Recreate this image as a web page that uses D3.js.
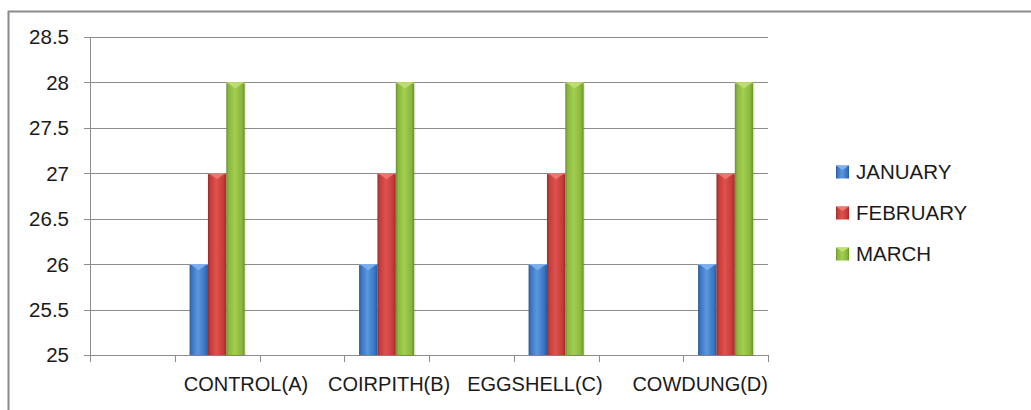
<!DOCTYPE html>
<html>
<head>
<meta charset="utf-8">
<script src="https://cdn.jsdelivr.net/npm/d3@7"></script>
<style>
  html, body { margin: 0; padding: 0; background: #fff; }
  svg { display: block; }
  text { font-family: "Liberation Sans", Arial, sans-serif; fill: #1a1a1a; }
</style>
</head>
<body>
<svg id="chart" width="1031" height="410"></svg>
<script>
// ---- data ----
const categories = ["CONTROL(A)", "COIRPITH(B)", "EGGSHELL(C)", "COWDUNG(D)"];
const seriesNames = ["JANUARY", "FEBRUARY", "MARCH"];
const january  = [26, 26, 26, 26];
const february = [27, 27, 27, 27];
const march    = [28, 28, 28, 28];
const yTicks = [25, 25.5, 26, 26.5, 27, 27.5, 28, 28.5];
const yTickLabels = ["25", "25.5", "26", "26.5", "27", "27.5", "28", "28.5"];

const seriesValues = [january, february, march];
const colors = [
  { base: "#3a74c2", light: "#5b97dd", dark: "#27589a", cap: "#7fb2ee" },
  { base: "#c43b38", light: "#de524e", dark: "#992a27", cap: "#ee7a76" },
  { base: "#89b63d", light: "#a3cf4f", dark: "#6a8e2b", cap: "#c0e070" }
];

const svg = d3.select("#chart");
const defs = svg.append("defs");
colors.forEach((c, i) => {
  const g = defs.append("linearGradient").attr("id", "grad" + i)
    .attr("x1", "0").attr("x2", "1").attr("y1", "0").attr("y2", "0");
  g.append("stop").attr("offset", "0%").attr("stop-color", c.dark);
  g.append("stop").attr("offset", "12%").attr("stop-color", c.base);
  g.append("stop").attr("offset", "45%").attr("stop-color", c.light);
  g.append("stop").attr("offset", "85%").attr("stop-color", c.base);
  g.append("stop").attr("offset", "100%").attr("stop-color", c.dark);
});

// outer frame
svg.append("rect").attr("x", 8.5).attr("y", 11.5).attr("width", 1040).attr("height", 420)
  .attr("fill", "none").attr("stroke", "#8a8a8a").attr("stroke-width", 2);

const plot = { left: 90, right: 768, top: 37, bottom: 355 };

// 8 slots: a blank slot before each category
const slots = [];
categories.forEach((c, i) => { slots.push("_gap" + i); slots.push(c); });

const x = d3.scaleBand().domain(slots).range([plot.left, plot.right]).paddingInner(0).paddingOuter(0);
const bw = x.bandwidth();
const xs = d3.scaleBand().domain(seriesNames).range([bw * 0.175, bw * 0.825]).padding(0);
const y = d3.scaleLinear().domain([25, 28.5]).range([plot.bottom, plot.top]);

// gridlines
svg.append("g").selectAll("line").data(yTicks).join("line")
  .attr("x1", plot.left - 6).attr("x2", plot.right)
  .attr("y1", d => Math.round(y(d)) + 0.5).attr("y2", d => Math.round(y(d)) + 0.5)
  .attr("stroke", "#8c8c8c").attr("stroke-width", 1);

// y axis line
svg.append("line").attr("x1", plot.left + 0.5).attr("x2", plot.left + 0.5)
  .attr("y1", plot.top).attr("y2", plot.bottom + 7)
  .attr("stroke", "#8c8c8c");

// y labels
svg.append("g").selectAll("text").data(yTicks).join("text")
  .attr("x", 69).attr("y", d => y(d)).attr("dy", "0.36em")
  .attr("text-anchor", "end").attr("font-size", 20.5)
  .text((d, i) => yTickLabels[i]);

// x axis ticks (slot boundaries)
const bounds = slots.map(s => x(s)).concat([plot.right]);
svg.append("g").selectAll("line").data(bounds).join("line")
  .attr("x1", d => Math.round(d) + 0.5).attr("x2", d => Math.round(d) + 0.5)
  .attr("y1", plot.bottom).attr("y2", plot.bottom + 7)
  .attr("stroke", "#8c8c8c");

// bars
const barG = svg.append("g");
categories.forEach((cat, ci) => {
  seriesNames.forEach((s, si) => {
    const v = seriesValues[si][ci];
    const bx = x(cat) + xs(s);
    const w = xs.bandwidth();
    const top = y(v);
    const h = y(25) - top;
    barG.append("rect").attr("x", bx + 1.5).attr("y", top + 1).attr("width", w).attr("height", h)
      .attr("fill", "#000").attr("opacity", 0.08);
    barG.append("rect").attr("x", bx).attr("y", top).attr("width", w).attr("height", h)
      .attr("fill", "url(#grad" + si + ")");
    barG.append("polygon")
      .attr("points", [[bx + 1, top], [bx + w - 1, top], [bx + w / 2, top + 6]].map(p => p.join(",")).join(" "))
      .attr("fill", colors[si].cap).attr("opacity", 0.9);
    barG.append("line").attr("x1", bx).attr("x2", bx + w).attr("y1", top + 0.5).attr("y2", top + 0.5)
      .attr("stroke", colors[si].cap).attr("stroke-width", 1);
  });
});

// category labels (Excel-like placement shifts)
const labelShift = [0.34, 0.03, -0.25, -0.3];
svg.append("g").selectAll("text").data(categories).join("text")
  .attr("x", (d, i) => x(d) + bw / 2 + labelShift[i] * bw)
  .attr("y", 391).attr("text-anchor", "middle").attr("font-size", 20)
  .text(d => d);

// legend
const legend = svg.append("g");
seriesNames.forEach((s, i) => {
  const cy = 172 + i * 41;
  legend.append("rect").attr("x", 836).attr("y", cy - 6.5).attr("width", 13).attr("height", 13)
    .attr("fill", "url(#grad" + i + ")");
  legend.append("polygon")
    .attr("points", [[836, cy - 6.5], [849, cy - 6.5], [842.5, cy - 2]].map(p => p.join(",")).join(" "))
    .attr("fill", colors[i].cap);
  legend.append("text").attr("x", 856).attr("y", cy).attr("dy", "0.36em")
    .attr("font-size", 20.5).text(s);
});
</script>
</body>
</html>
